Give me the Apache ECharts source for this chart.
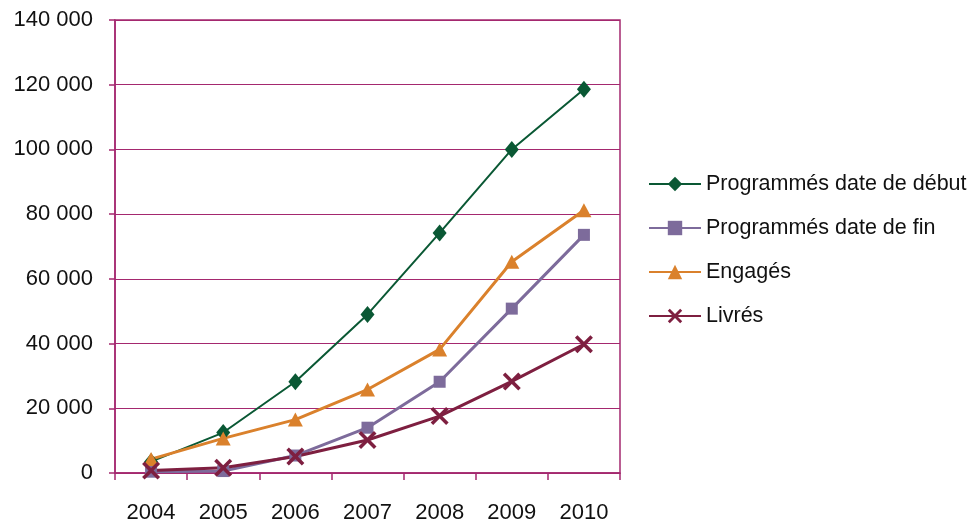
<!DOCTYPE html>
<html>
<head>
<meta charset="utf-8">
<script src="https://cdn.jsdelivr.net/npm/echarts@6/dist/echarts.min.js"></script>
<style>
  html, body { margin: 0; padding: 0; background: #fff; }
  #chart { width: 975px; height: 524px; }
</style>
</head>
<body>
<div id="chart"></div>
<script>
var years = ['2004', '2005', '2006', '2007', '2008', '2009', '2010'];
var debut = [3500, 12500, 28200, 49000, 74200, 100000, 118600];
var fin = [400, 600, 5400, 14000, 28200, 50800, 73600];
var engages = [4300, 10700, 16500, 25800, 38200, 65300, 81200];
var livres = [800, 1600, 5100, 10200, 17600, 28300, 39800];

var gridColor = '#a4286f';
var font = '"Liberation Sans", Arial, sans-serif';
// X marker for "Livrés", filled outline of two crossing bars
var crossPath = 'path://M0,1.4L1.4,0L5,3.6L8.6,0L10,1.4L6.4,5L10,8.6L8.6,10L5,6.4L1.4,10L0,8.6L3.6,5Z';

var chart = echarts.init(document.getElementById('chart'));
chart.setOption({
    animation: false,
    grid: {left: 115, right: 355, top: 20, bottom: 50, show: true, borderColor: gridColor, borderWidth: 1.5},
    legend: {
        orient: 'vertical', left: 648, top: 173, padding: 0, itemWidth: 52, itemHeight: 18, itemGap: 22,
        textStyle: {fontFamily: font, fontSize: 21.5, color: '#111'},
        data: ['Programmés date de début', 'Programmés date de fin', 'Engagés', 'Livrés']
    },
    xAxis: {
        type: 'category', data: years, boundaryGap: true,
        axisLine: {lineStyle: {color: gridColor, width: 1.5}},
        axisTick: {show: true, length: 7, lineStyle: {color: gridColor, width: 1.5}},
        axisLabel: {margin: 29, fontFamily: font, fontSize: 22, color: '#111'}
    },
    yAxis: {
        type: 'value', min: 0, max: 140000, interval: 20000,
        axisLine: {show: true, lineStyle: {color: gridColor, width: 1.5}},
        axisTick: {show: true, length: 6, lineStyle: {color: gridColor, width: 1.5}},
        splitLine: {lineStyle: {color: gridColor, width: 1.2}},
        axisLabel: {
            margin: 22, fontFamily: font, fontSize: 22, color: '#111',
            formatter: function (v) { return String(v).replace(/\B(?=(\d{3})+(?!\d))/g, ' '); }
        }
    },
    series: [
        {name: 'Programmés date de début', type: 'line', data: debut, symbol: 'diamond', symbolSize: [14, 17],
            lineStyle: {color: '#0a5834', width: 2}, itemStyle: {color: '#0a5834'}},
        {name: 'Programmés date de fin', type: 'line', data: fin, symbol: 'rect', symbolSize: 12,
            lineStyle: {color: '#7d6b9b', width: 3}, itemStyle: {color: '#7d6b9b'}},
        {name: 'Engagés', type: 'line', data: engages, symbol: 'triangle', symbolSize: [15, 14],
            lineStyle: {color: '#da812c', width: 3}, itemStyle: {color: '#da812c'}},
        {name: 'Livrés', type: 'line', data: livres, symbol: crossPath, symbolSize: 18,
            lineStyle: {color: '#7e1f40', width: 3}, itemStyle: {color: '#7e1f40'}}
    ]
});
</script>
</body>
</html>
